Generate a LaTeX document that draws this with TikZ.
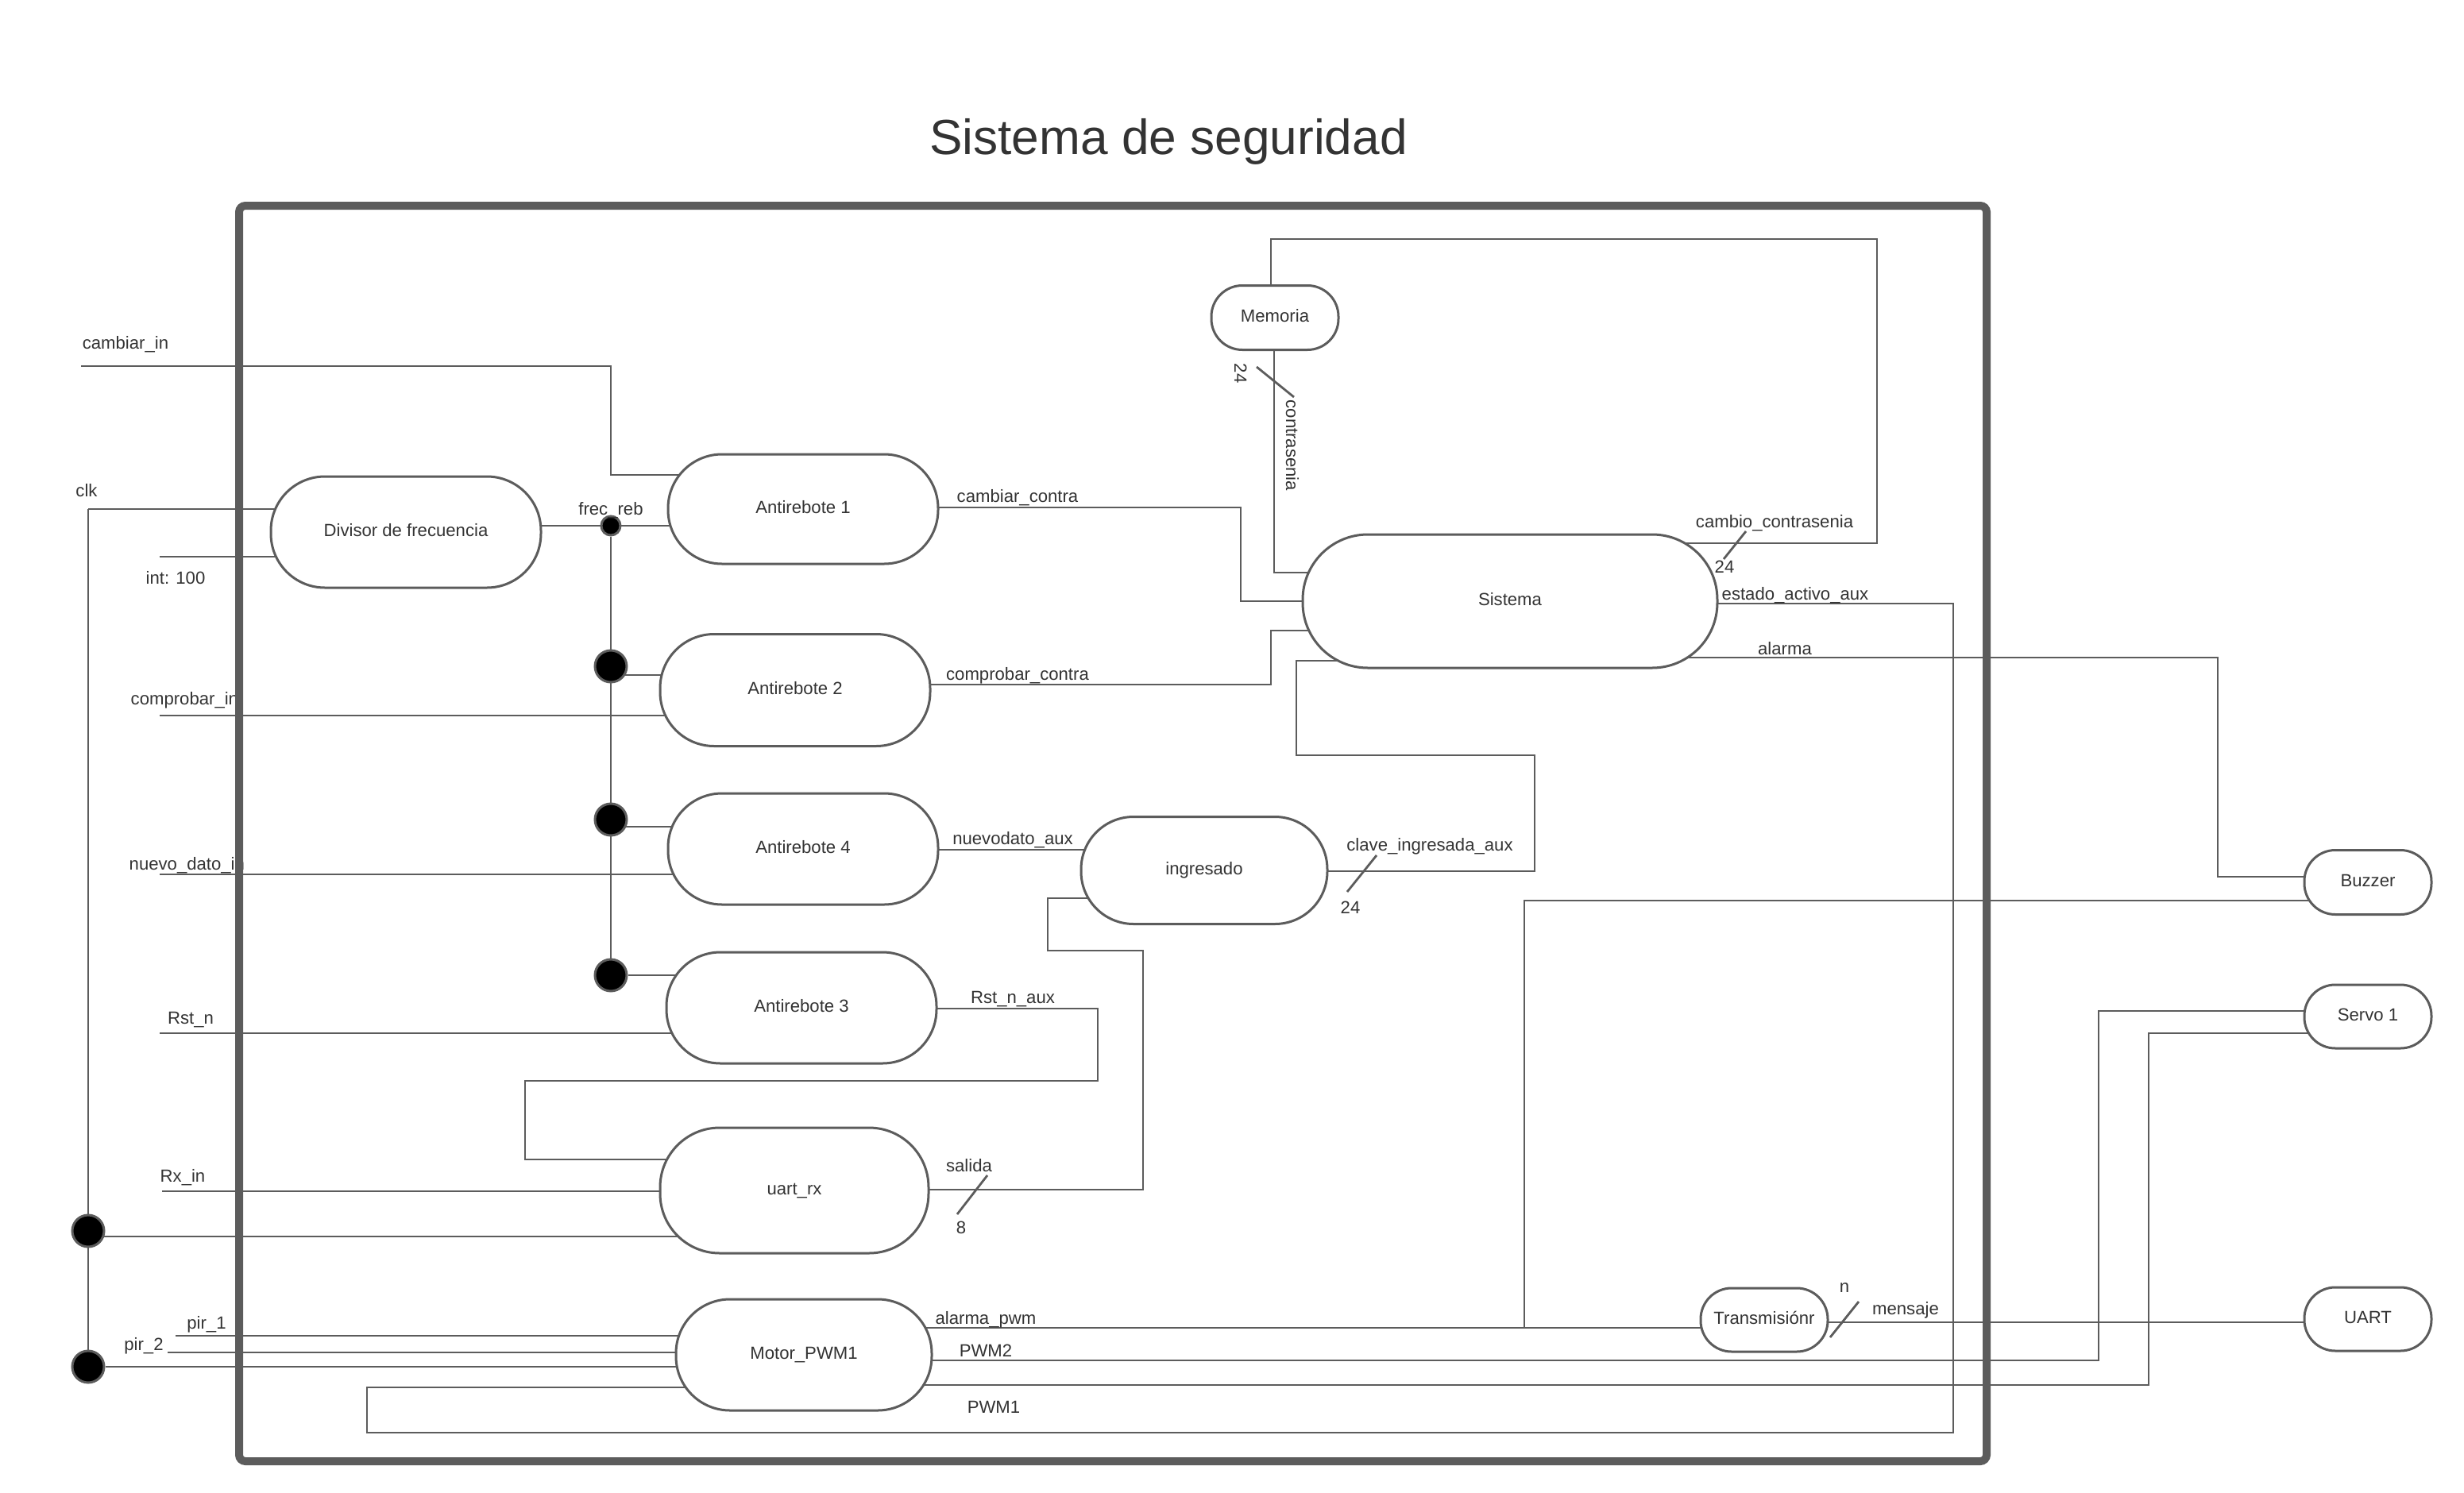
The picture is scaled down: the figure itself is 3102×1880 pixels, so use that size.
\documentclass[tikz,border=0pt]{standalone}
\usepackage{fontspec}
\setmainfont{Liberation Sans}
\usetikzlibrary{backgrounds}
\definecolor{linea}{RGB}{92,92,92}
\definecolor{texto}{RGB}{51,51,51}
\tikzset{
  bloque/.style={draw=linea, line width=0.3mm, fill=white, rounded corners=#1,
    inner sep=0pt, text=texto, font=\fontsize{6.3}{7.5}\selectfont,
    text height=1.6mm, text depth=0.6mm},
  bloque/.default=6.8mm,
  senal/.style={inner sep=0pt, text=texto, font=\fontsize{6.3}{7.5}\selectfont,
    text height=1.6mm, text depth=0mm},
  cable/.style={draw=linea, line width=0.28mm},
  punto/.style={circle, draw=linea, fill=black, line width=0.3mm, inner sep=0pt, minimum size=4mm},
  puntito/.style={punto, minimum size=2.4mm},
  marco/.style={draw=linea, line width=1mm, rounded corners=0.8mm}
}
\begin{document}
\begin{tikzpicture}[x=0.1mm, y=-0.1mm]
    \useasboundingbox (0,0) rectangle (3102,1880);
    \node[senal, font=\fontsize{17.7}{21}\selectfont, text height=4.5mm] (titulo) at (1471,172) {Sistema de seguridad};

    \node[bloque, minimum width=34mm, minimum height=14mm] (divisor) at (511,670) {Divisor de frecuencia};
    \node[bloque, minimum width=34mm, minimum height=13.8mm] (ar1) at (1011,641) {Antirebote 1};
    \node[bloque, minimum width=34mm, minimum height=14.1mm] (ar2) at (1001,869) {Antirebote 2};
    \node[bloque, minimum width=34mm, minimum height=14mm] (ar4) at (1011,1069) {Antirebote 4};
    \node[bloque, minimum width=34mm, minimum height=14mm] (ar3) at (1009,1269) {Antirebote 3};
    \node[bloque=7.5mm, minimum width=33.8mm, minimum height=15.8mm] (urx) at (1000,1499) {uart\_rx};
    \node[bloque, minimum width=32.2mm, minimum height=14mm] (mot) at (1012,1706) {Motor\_PWM1};
    \node[bloque=6.6mm, minimum width=31mm, minimum height=13.5mm] (ing) at (1516,1096) {ingresado};
    \node[bloque=8.2mm, minimum width=52.2mm, minimum height=16.8mm] (sis) at (1901,757) {Sistema};
    \node[bloque=3.9mm, minimum width=16mm, minimum height=8.1mm] (mem) at (1605,400) {Memoria};
    \node[bloque=3.9mm, minimum width=16mm, minimum height=8.1mm] (buz) at (2981,1111) {Buzzer};
    \node[bloque=3.9mm, minimum width=16mm, minimum height=8mm] (servo) at (2981,1280) {Servo 1};
    \node[bloque=3.9mm, minimum width=16mm, minimum height=8mm] (uart) at (2981,1661) {UART};
    \node[bloque=3.9mm, minimum width=16mm, minimum height=8mm] (tx) at (2221,1662) {Transmisiónr};

    \node[puntito] (dreb) at (769,662) {};
    \node[punto] (d1) at (769,839) {};
    \node[punto] (d2) at (769,1032) {};
    \node[punto] (d3) at (769,1228) {};
    \node[punto] (dclk1) at (111,1550) {};
    \node[punto] (dclk2) at (111,1721) {};

    \coordinate (e-cambiar) at (102,461);
    \coordinate (e-clk) at (111,641);
    \coordinate (e-int) at (201,701);
    \coordinate (e-comprobar) at (201,901);
    \coordinate (e-nuevo) at (201,1101);
    \coordinate (e-rst) at (201,1301);
    \coordinate (e-rx) at (204,1500);
    \coordinate (e-pir1) at (221,1682);
    \coordinate (e-pir2) at (211,1703);

    \foreach \n/\p/\t in {cambiarin/{158,431}/cambiar\_in, clk/{109,617}/clk, int/{221,727}/{int: 100},
      frec/{769,640}/frec\_reb, rst/{240,1281}/Rst\_n, rx/{230,1480}/Rx\_in,
      pir1/{260,1665}/pir\_1, pir2/{181,1692}/pir\_2,
      cambiarc/{1281,624}/cambiar\_contra, comprobarc/{1281,848}/comprobar\_contra,
      nuevoaux/{1275,1055}/nuevodato\_aux, rstaux/{1275,1255}/Rst\_n\_aux,
      salida/{1220,1467}/salida, ocho/{1210,1545}/8,
      clave/{1800,1063}/clave\_ingresada\_aux, clavebits/{1700,1142}/24,
      cambio/{2234,656}/cambio\_contrasenia, cambiobits/{2171,713}/24,
      estado/{2260,747}/estado\_activo\_aux, alarma/{2247,816}/alarma,
      alarmapwm/{1241,1659}/alarma\_pwm, pwm2/{1241,1700}/PWM2, pwm1/{1251,1771}/PWM1,
      nbits/{2322,1619}/n, mensaje/{2399,1647}/mensaje}
    \node[senal] (l-\n) at (\p) {\t};
    \node[senal, anchor=west] (l-comprobarin) at (164,879) {comprobar\_in};
    \node[senal, anchor=west] (l-nuevoin) at (162,1087) {nuevo\_dato\_in};
    \node[senal, rotate=-90] (l-contra) at (1627,561) {contrasenia};
    \node[senal, rotate=-90] (l-contrabits) at (1562,470) {24};

    \begin{pgfonlayer}{background}
    \draw[cable] (e-cambiar) -| (769,598) -- (ar1.center |- 0,598);
    \draw[cable] (e-clk) -- (divisor.center |- e-clk);
    \draw[cable] (e-clk) -- (dclk2);
    \draw[cable] (e-int) -- (divisor.center |- e-int);
    \draw[cable] (divisor.center |- dreb) -- (ar1.center |- dreb);
    \draw[cable] (dreb) -- (d3);
    \draw[cable] (d1.center |- 0,850) -- (ar2.center |- 0,850);
    \draw[cable] (e-comprobar) -- (ar2.center |- e-comprobar);
    \draw[cable] (d2.center |- 0,1041) -- (ar4.center |- 0,1041);
    \draw[cable] (e-nuevo) -- (ar4.center |- e-nuevo);
    \draw[cable] (d3) -- (ar3.center |- d3);
    \draw[cable] (e-rst) -- (ar3.center |- e-rst);
    \draw[cable] (ar3.center |- 0,1270) -| (1382,1361) -| (661,1460) -- (urx.center |- 0,1460);
    \draw[cable] (e-rx) -- (urx.center |- e-rx);
    \draw[cable] (dclk1.center |- 0,1557) -- (urx.center |- 0,1557);
    \draw[cable] (urx.center |- 0,1498) -| (1439,1197) -| (1319,1131) -- (ing.center |- 0,1131);
    \draw[cable] (ar4.center |- 0,1070) -- (ing.center |- 0,1070);
    \draw[cable] (ing.center |- 0,1097) -| (1932,951) -| (1632,832) -- (sis.center |- 0,832);
    \draw[cable] (ar1.center |- 0,639) -| (1562,757) -- (sis);
    \draw[cable] (ar2.center |- 0,862) -| (1600,794) -- (sis.center |- 0,794);
    \draw[cable] (mem.center -| 1604,0) |- (sis.center |- 0,721);
    \draw[cable] (sis.center |- 0,684) -| (2363,301) -| (mem.center -| 1600,0);
    \draw[cable] (sis.center |- 0,760) -| (2459,1804) -| (462,1747) -- (mot.center |- 0,1747);
    \draw[cable] (sis.center |- 0,828) -| (2792,1104) -- (buz.center |- 0,1104);
    \draw[cable] (buz.center |- 0,1134) -| (1919,1672);
    \draw[cable] (mot.center |- 0,1672) -- (tx.center |- 0,1672);
    \draw[cable] (tx.center |- 0,1665) -- (uart.center |- 0,1665);
    \draw[cable] (mot.center |- 0,1713) -| (2642,1273) -- (servo.center |- 0,1273);
    \draw[cable] (mot.center |- 0,1744) -| (2705,1301) -- (servo.center |- 0,1301);
    \draw[cable] (e-pir1) -- (mot.center |- e-pir1);
    \draw[cable] (e-pir2) -- (mot.center |- e-pir2);
    \draw[cable] (dclk2) -- (mot.center |- dclk2);
    \end{pgfonlayer}

    % marcas de bus
    \foreach \a/\b in {{1243,1480}/{1205,1529}, {1733,1077}/{1696,1123}, {1582,462}/{1629,500},
      {2198,669}/{2170,704}, {2340,1639}/{2304,1684}}
    \draw[cable] (\a) -- (\b);

    \draw[marco] (301,259) rectangle (2501,1840);
\end{tikzpicture}
\end{document}
